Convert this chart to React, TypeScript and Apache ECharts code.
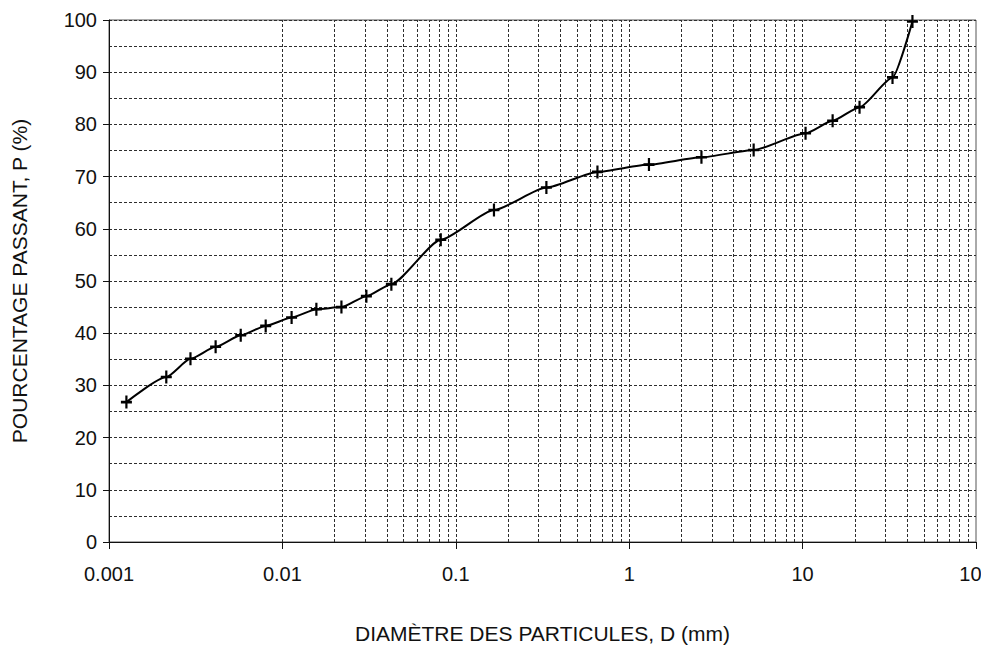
import React, { useEffect, useRef } from "react";
import * as echarts from "echarts";

// Diamètre des particules (mm) and percentage passing (%)
const diameters = [0.00126, 0.00214, 0.00295, 0.00412, 0.00575, 0.00801, 0.0113, 0.0157, 0.0219, 0.0305, 0.0425, 0.0819, 0.166, 0.333, 0.656, 1.3, 2.61, 5.22, 10.4, 14.9, 21.3, 33.0, 43.0];
const passing = [26.8, 31.6, 35.1, 37.4, 39.6, 41.4, 43.0, 44.6, 45.0, 47.1, 49.4, 57.9, 63.6, 67.9, 70.9, 72.3, 73.7, 75.1, 78.3, 80.7, 83.3, 89.0, 99.7];

const xDecades = [0.001, 0.01, 0.1, 1, 10];
const xTickLabels = ["0.001", "0.01", "0.1", "1", "10", "100"];
const gridMultipliers = [1, 2, 3, 4, 5, 6, 7, 8, 9];

const yTitle = "POURCENTAGE PASSANT, P (%)";
const xTitle = "DIAMÈTRE DES PARTICULES, D (mm)";

const FONT = "'Liberation Sans', Arial, sans-serif";
const GRID_COLOR = "#2e2e2e";
const GRID_TYPE: number[] = [3, 2];

export default function App() {
  const ref = useRef<HTMLDivElement>(null);

  useEffect(() => {
    if (!ref.current) return;
    const chart = echarts.init(ref.current, undefined, { renderer: "svg" });

    const verticalX: number[] = [];
    xDecades.forEach((d) =>
      gridMultipliers.forEach((m) => {
        const v = +(d * m).toPrecision(6);
        if (v > 0.001) verticalX.push(v);
      })
    );

    const plus = "path://M4,0H6V4H10V6H6V10H4V6H0V4H4Z";

    chart.setOption({
      animation: false,
      backgroundColor: "#ffffff",
      grid: {
        left: 109,
        right: 5,
        top: 20,
        bottom: 105,
        show: true,
        borderColor: "#555",
        borderWidth: 1,
        containLabel: false,
        outerBoundsMode: "none",
      },
      xAxis: {
        type: "log",
        logBase: 10,
        min: 0.001,
        max: 100,
        name: xTitle,
        nameLocation: "middle",
        nameGap: 81,
        nameTextStyle: { fontFamily: FONT, fontSize: 21, color: "#111" },
        axisLine: { show: true, lineStyle: { color: "#111", width: 1 } },
        axisTick: { show: true, length: 7, lineStyle: { color: "#111" } },
        axisLabel: {
          margin: 22,
          fontFamily: FONT,
          fontSize: 20,
          color: "#111",
          showMaxLabel: true,
          formatter: (v: number) => {
            const i = Math.round(Math.log10(v)) + 3;
            return xTickLabels[i] ?? String(v);
          },
        },
        splitLine: { show: false },
      },
      yAxis: {
        type: "value",
        min: 0,
        max: 100,
        interval: 10,
        name: yTitle,
        nameLocation: "middle",
        nameGap: 79,
        nameRotate: 90,
        nameTextStyle: { fontFamily: FONT, fontSize: 21, color: "#111" },
        axisLine: { show: true, lineStyle: { color: "#111", width: 1 } },
        axisTick: { show: true, length: 6, lineStyle: { color: "#111" } },
        axisLabel: { margin: 12, fontFamily: FONT, fontSize: 20, color: "#111" },
        splitLine: { show: true, lineStyle: { color: GRID_COLOR, type: GRID_TYPE, width: 1 } },
        minorTick: { show: false, splitNumber: 2 },
        minorSplitLine: { show: true, lineStyle: { color: GRID_COLOR, type: GRID_TYPE, width: 1 } },
      },
      series: [
        {
          type: "line",
          data: [],
          silent: true,
          z: 1,
          markLine: {
            silent: true,
            symbol: ["none", "none"],
            animation: false,
            label: { show: false },
            lineStyle: { color: GRID_COLOR, type: GRID_TYPE, width: 1 },
            data: verticalX.map((v) => ({ xAxis: v })),
          },
        },
        {
          type: "line",
          z: 5,
          data: diameters.map((d, i) => [d, passing[i]]),
          smooth: 0.2,
          smoothMonotone: "x",
          symbol: plus,
          symbolSize: [11, 13],
          itemStyle: { color: "#000" },
          lineStyle: { color: "#000", width: 2 },
        },
      ],
    });

    return () => chart.dispose();
  }, []);

  return (
    <div
      ref={ref}
      style={{ position: "fixed", left: 0, top: 0, width: 981, height: 647, background: "#fff" }}
    />
  );
}
